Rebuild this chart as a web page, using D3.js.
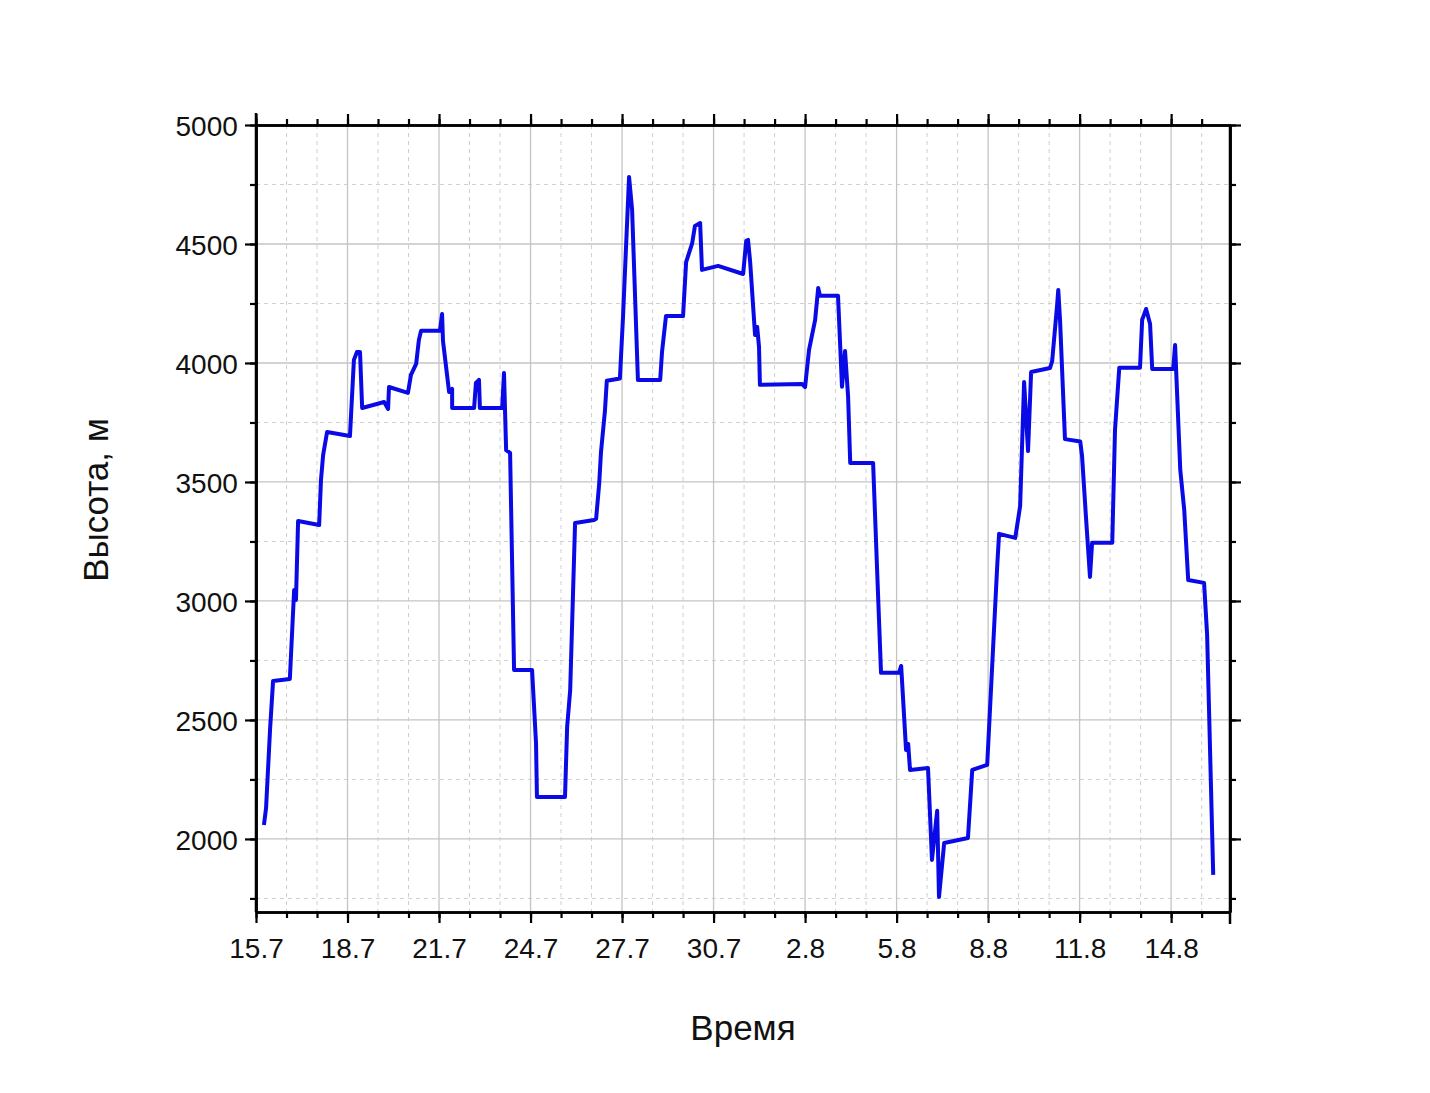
<!DOCTYPE html>
<html><head><meta charset="utf-8">
<script src="https://cdn.jsdelivr.net/npm/d3@7"></script>
<style>body{margin:0;background:#fff}svg{font-family:"Liberation Sans",Arial,sans-serif}</style>
</head><body><svg id="c" width="1430" height="1093"></svg>
<script>
// days since 15 July
const days = [0.26,0.33,0.46,0.56,1.11,1.25,1.31,1.38,2.07,2.13,2.20,2.33,3.08,3.21,3.31,3.41,3.48,4.20,4.33,4.36,4.98,5.08,5.25,5.34,5.41,6.03,6.10,6.13,6.33,6.43,6.43,7.15,7.21,7.31,7.34,8.07,8.13,8.20,8.33,8.46,9.05,9.18,9.21,10.13,10.20,10.30,10.46,11.08,11.15,11.25,11.31,11.44,11.50,11.93,12.03,12.23,12.33,12.52,13.25,13.31,13.44,14.00,14.10,14.30,14.39,14.56,14.62,15.15,15.97,16.07,16.13,16.20,16.36,16.43,16.49,16.52,17.90,18.00,18.13,18.33,18.43,18.49,19.08,19.21,19.31,19.41,19.48,20.23,20.36,20.49,21.08,21.15,21.31,21.38,21.44,22.03,22.16,22.33,22.39,22.56,23.34,23.48,23.97,24.30,24.36,24.89,25.05,25.18,25.31,25.41,26.03,26.10,26.26,26.30,26.36,26.52,27.02,27.08,27.21,27.34,27.41,28.07,28.16,28.30,28.98,29.05,29.18,29.31,29.38,30.07,30.13,30.30,30.43,30.56,31.08,31.18,31.38];
const heights = [2059,2130,2458,2664,2672,3046,3004,3336,3319,3508,3613,3710,3693,4013,4046,4046,3811,3836,3807,3899,3874,3950,3996,4097,4135,4135,4206,4092,3878,3891,3811,3811,3916,3929,3811,3811,3958,3634,3622,2710,2710,2403,2176,2176,2471,2626,3328,3340,3345,3492,3626,3800,3925,3935,4189,4782,4643,3929,3929,4046,4197,4197,4424,4504,4576,4588,4391,4408,4374,4513,4517,4424,4118,4151,4067,3908,3912,3899,4055,4181,4315,4282,4282,3900,4050,3860,3580,3580,3135,2698,2698,2727,2374,2399,2290,2298,1912,2118,1756,1983,2004,2290,2311,3151,3282,3265,3399,3920,3630,3962,3979,4008,4240,4307,4176,3680,3670,3609,3349,3101,3245,3245,3718,3980,3980,4181,4227,4164,3975,3975,4076,3550,3382,3088,3076,2857,1849];
const xTickDays = [0,3,6,9,12,15,18,21,24,27,30];
const xTickLabels = ["15.7","18.7","21.7","24.7","27.7","30.7","2.8","5.8","8.8","11.8","14.8"];
const yTicks = [2000,2500,3000,3500,4000,4500,5000];

const svg = d3.select("#c");
const L=256,R=1230,T=125,B=912;
const x = d3.scaleLinear().domain([0,31.93]).range([L,R]);
const y = d3.scaleLinear().domain([1693,5000]).range([B,T]);
const g = svg.append("g");
d3.range(1,32).filter(d=>d%3!==0).forEach(d=>g.append("line").attr("x1",x(d)).attr("x2",x(d)).attr("y1",T).attr("y2",B).attr("stroke","#d0d0d0").attr("stroke-dasharray","4,4"));
d3.range(1750,5000,500).forEach(v=>g.append("line").attr("x1",L).attr("x2",R).attr("y1",y(v)).attr("y2",y(v)).attr("stroke","#d0d0d0").attr("stroke-dasharray","4,4"));
xTickDays.forEach(d=>g.append("line").attr("x1",x(d)).attr("x2",x(d)).attr("y1",T).attr("y2",B).attr("stroke","#c4c4c4").attr("stroke-width",1.3));
yTicks.forEach(v=>g.append("line").attr("x1",L).attr("x2",R).attr("y1",y(v)).attr("y2",y(v)).attr("stroke","#c4c4c4").attr("stroke-width",1.3));

svg.append("path").datum(days.map((d,i)=>[d,heights[i]]))
 .attr("d",d3.line().x(d=>x(d[0])).y(d=>y(d[1])))
 .attr("fill","none").attr("stroke","#0a0ae6").attr("stroke-width",4).attr("stroke-linejoin","round");

const minorX = d3.range(0,32);
const minorY = d3.range(1750,5001,250);
function ax(gen,tr,vals,size,fmt){
  const a=svg.append("g").attr("transform",tr).call(gen.tickValues(vals).tickSize(size).tickSizeOuter(0).tickFormat(fmt));
  a.select(".domain").attr("stroke-width",2.5);
  a.selectAll(".tick line").attr("stroke-width",2.2);
  a.selectAll("text").attr("font-size",28).attr("fill","#111").attr("font-family","Liberation Sans, Arial");
  return a;
}
const none=()=>"";
ax(d3.axisBottom(x),`translate(0,${B})`,minorX,6,none);
ax(d3.axisBottom(x),`translate(0,${B})`,xTickDays,11,(d,i)=>xTickLabels[i]).selectAll("text").attr("dy","1.15em");
ax(d3.axisTop(x),`translate(0,${T})`,minorX,6,none);
ax(d3.axisTop(x),`translate(0,${T})`,xTickDays,11,none);
ax(d3.axisLeft(y),`translate(${L},0)`,minorY,6,none);
ax(d3.axisLeft(y),`translate(${L},0)`,yTicks,11,d=>d).selectAll("text").attr("dx","-0.15em").attr("dy","0.36em");
ax(d3.axisRight(y),`translate(${R},0)`,minorY,6,none);
ax(d3.axisRight(y),`translate(${R},0)`,yTicks,11,none);
svg.append("line").attr("x1",L).attr("x2",L).attr("y1",113).attr("y2",B).attr("stroke","#000").attr("stroke-width",2.5);
svg.append("line").attr("x1",R).attr("x2",R).attr("y1",T).attr("y2",924).attr("stroke","#000").attr("stroke-width",2.5);

svg.append("text").attr("x",743).attr("y",1040).attr("text-anchor","middle").attr("font-size",35).attr("fill","#111").text("Время");
svg.append("text").attr("transform","translate(108,500) rotate(-90)").attr("text-anchor","middle").attr("font-size",35).attr("fill","#111").text("Высота, м");
</script></body></html>
